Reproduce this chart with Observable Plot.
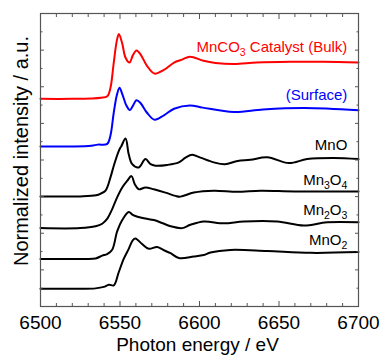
<!DOCTYPE html>
<html><head><meta charset="utf-8">
<script src="https://cdn.jsdelivr.net/npm/d3@7"></script>
<script src="https://cdn.jsdelivr.net/npm/@observablehq/plot@0.6"></script>
<style>
html,body{margin:0;padding:0;background:#fff;}
#chart svg{display:block;}
</style></head><body><div id="chart"></div>
<script>
// ---- data ----
const seriesNames = ["Bulk", "Surface", "MnO", "Mn3O4", "Mn2O3", "MnO2"];
const seriesLabels = ["MnCO3 Catalyst (Bulk)", "(Surface)", "MnO", "Mn3O4", "Mn2O3", "MnO2"];
const seriesOffsets = [11.34, 8.74, 6.01, 4.28, 2.60, 0.97];
const jumpScale = 2;

const bulkE  = [6500, 6520, 6532, 6538, 6542, 6544, 6546, 6548, 6549.3, 6551.4, 6553.5, 6556, 6558, 6560.4, 6563, 6567, 6571.7, 6577.6, 6584, 6589, 6594, 6602.5, 6610, 6621.6, 6636, 6657, 6678, 6700];
const bulkMu = [0, 0, 0.01, 0.03, 0.07, 0.30, 0.96, 1.59, 1.77, 1.51, 1.12, 0.99, 1.18, 1.32, 1.21, 0.90, 0.69, 0.79, 0.99, 1.07, 1.15, 1.04, 0.98, 0.95, 0.99, 1.01, 1.01, 0.99];

const surfE  = [6500, 6520, 6532, 6536, 6542, 6544, 6546, 6548, 6549.7, 6551.5, 6554, 6556.2, 6558, 6560.4, 6563, 6567, 6571.7, 6577.6, 6584, 6594, 6602, 6621.6, 6640, 6666, 6700];
const surfMu = [0, 0, 0.02, 0.05, 0.07, 0.30, 0.90, 1.40, 1.60, 1.42, 1.12, 0.99, 1.10, 1.26, 1.18, 0.92, 0.73, 0.85, 1.03, 1.12, 1.06, 0.94, 1.01, 1.05, 0.99];

const mnoE  = [6500, 6525, 6535, 6538, 6540.9, 6544, 6546.1, 6549.2, 6550.9, 6553.5, 6555.5, 6557.7, 6561.8, 6566, 6569.2, 6572.3, 6579.7, 6587, 6591.2, 6595.4, 6600.6, 6609, 6616, 6624, 6632, 6642.6, 6656.2, 6667.7, 6684.5, 6700];
const mnoMu = [0, 0, 0.03, 0.08, 0.16, 0.52, 0.84, 1.24, 1.38, 1.58, 1.15, 0.88, 0.79, 1.02, 0.88, 0.84, 0.86, 0.93, 1.06, 1.14, 1.06, 0.93, 0.88, 0.97, 1.00, 1.07, 0.91, 1.02, 1.05, 1.02];

const mn3o4E  = [6500, 6525, 6534.6, 6538.8, 6541.9, 6545.1, 6548.2, 6551.4, 6554.5, 6557.2, 6559.3, 6561.8, 6566, 6571.3, 6578.6, 6584.9, 6588, 6596.4, 6609, 6623.7, 6638.4, 6660, 6700];
const mn3o4Mu = [0, 0, 0.05, 0.12, 0.25, 0.52, 0.84, 1.11, 1.29, 1.42, 1.20, 1.06, 1.11, 1.06, 0.97, 0.88, 0.86, 0.97, 1.02, 0.99, 1.02, 1.00, 1.00];

const mn2o3E  = [6500, 6525, 6534.6, 6538.8, 6541.9, 6545.1, 6548.2, 6551.4, 6555.5, 6558, 6561, 6566, 6571.3, 6576.5, 6581.8, 6589.1, 6594.3, 6602.7, 6615.3, 6627.9, 6648.9, 6665.6, 6680.3, 6700];
const mn2o3Mu = [0, 0, 0.01, 0.09, 0.13, 0.25, 0.75, 1.06, 1.28, 1.20, 1.15, 1.10, 1.06, 0.98, 0.89, 0.84, 0.93, 1.02, 0.97, 1.02, 1.02, 0.91, 1.00, 1.00];

const mno2E  = [6500, 6525, 6534.6, 6539.8, 6543, 6546.1, 6549.2, 6552.4, 6555.5, 6558, 6559.7, 6563.9, 6568.1, 6573.4, 6577.6, 6581.8, 6587, 6596.4, 6602.7, 6606.9, 6619.5, 6642.6, 6669.8, 6700];
const mno2Mu = [0, 0, 0.01, 0.05, 0.11, 0.09, 0.45, 0.82, 1.09, 1.32, 1.37, 1.22, 1.09, 1.14, 1.05, 0.97, 0.84, 0.88, 0.92, 0.99, 1.06, 1.03, 0.98, 1.00];

const labelE = [6693, 6693, 6693, 6693, 6693, 6693];
const labelY = [14.16, 11.52, 8.79, 6.88, 5.24, 3.60];

const xMajorTicks = [6500, 6550, 6600, 6650, 6700];
const xMinorTicks = d3.range(6510, 6700, 10).filter(v => v % 50 !== 0);
const yMajorTicks = [2, 4, 6, 8, 10, 12, 14];
const yMinorTicks = [1, 3, 5, 7, 9, 11, 13, 15];

const xTitle = "Photon energy / eV";
const yTitle = "Normalized intensity / a.u.";

// ---- build table ----
const energies = [bulkE, surfE, mnoE, mn3o4E, mn2o3E, mno2E];
const mus = [bulkMu, surfMu, mnoMu, mn3o4Mu, mn2o3Mu, mno2Mu];
const rows = seriesNames.flatMap((name, i) =>
  energies[i].map((e, j) => ({series: name, energy: e, value: seriesOffsets[i] + jumpScale * mus[i][j]})));
const labels = seriesNames.map((name, i) => ({series: name, text: seriesLabels[i], energy: labelE[i], value: labelY[i]}));

const colorOf = {Bulk: "#ff0000", Surface: "#0000ff"};
const col = d => colorOf[d.series] || "#000000";
const axisColor = "#555";
const tickOnly = {tickFormat: () => "", stroke: axisColor, label: null};

const plot = Plot.plot({
  width: 380, height: 355,
  marginLeft: 40, marginRight: 22, marginTop: 13, marginBottom: 49,
  style: {fontFamily: "'Liberation Sans', Arial, sans-serif", background: "#fff", color: "#000"},
  x: {domain: [6500, 6700], label: null},
  y: {domain: [0, 16], label: null},
  marks: [
    Plot.line(rows, {x: "energy", y: "value", z: "series", stroke: col, strokeWidth: 2, curve: "catmull-rom"}),
    Plot.frame({stroke: axisColor, strokeWidth: 1.2}),
    Plot.axisX({anchor: "bottom", ticks: xMajorTicks, tickSize: -5, ...tickOnly}),
    Plot.axisX({anchor: "bottom", ticks: xMinorTicks, tickSize: -3, ...tickOnly}),
    Plot.axisX({anchor: "top", ticks: xMajorTicks, tickSize: -5, ...tickOnly}),
    Plot.axisX({anchor: "top", ticks: xMinorTicks, tickSize: -3, ...tickOnly}),
    Plot.axisX({anchor: "bottom", ticks: xMajorTicks, tickSize: 0, tickPadding: 9, fontSize: 19, fill: "#000", tickFormat: d => String(d), label: null}),
    Plot.axisY({anchor: "left", ticks: yMajorTicks, tickSize: -4, ...tickOnly}),
    Plot.axisY({anchor: "left", ticks: yMinorTicks, tickSize: -2.5, ...tickOnly}),
    Plot.axisY({anchor: "right", ticks: yMajorTicks, tickSize: -4, ...tickOnly}),
    Plot.axisY({anchor: "right", ticks: yMinorTicks, tickSize: -2.5, ...tickOnly}),
    Plot.text(labels, {x: "energy", y: "value", text: "text", fill: col, textAnchor: "end", fontSize: 15}),
    Plot.text([xTitle], {text: d => d, frameAnchor: "bottom", textAnchor: "middle", lineAnchor: "middle", dy: 38, dx: -2, fontSize: 19, fill: "#000"}),
    Plot.text([yTitle], {text: d => d, frameAnchor: "left", textAnchor: "middle", lineAnchor: "middle", rotate: -90, dx: -19, dy: -9, fontSize: 20, fill: "#000"})
  ]
});

// chemical subscripts as real tspans
plot.querySelectorAll("text").forEach(el => {
  const s = el.textContent;
  if (!/[A-Za-z]\d/.test(s)) return;
  const parts = s.split(/(?<=[A-Za-z])(\d+)/);
  el.textContent = "";
  let shifted = false;
  parts.forEach((p, k) => {
    if (p === "") return;
    const t = document.createElementNS("http://www.w3.org/2000/svg", "tspan");
    t.textContent = p;
    if (k % 2 === 1) {
      t.setAttribute("font-size", "10.5");
      t.setAttribute("dy", "4");
      shifted = true;
    } else if (shifted) {
      t.setAttribute("dy", "-4");
      shifted = false;
    }
    el.appendChild(t);
  });
});

document.getElementById("chart").appendChild(plot);
</script></body></html>
